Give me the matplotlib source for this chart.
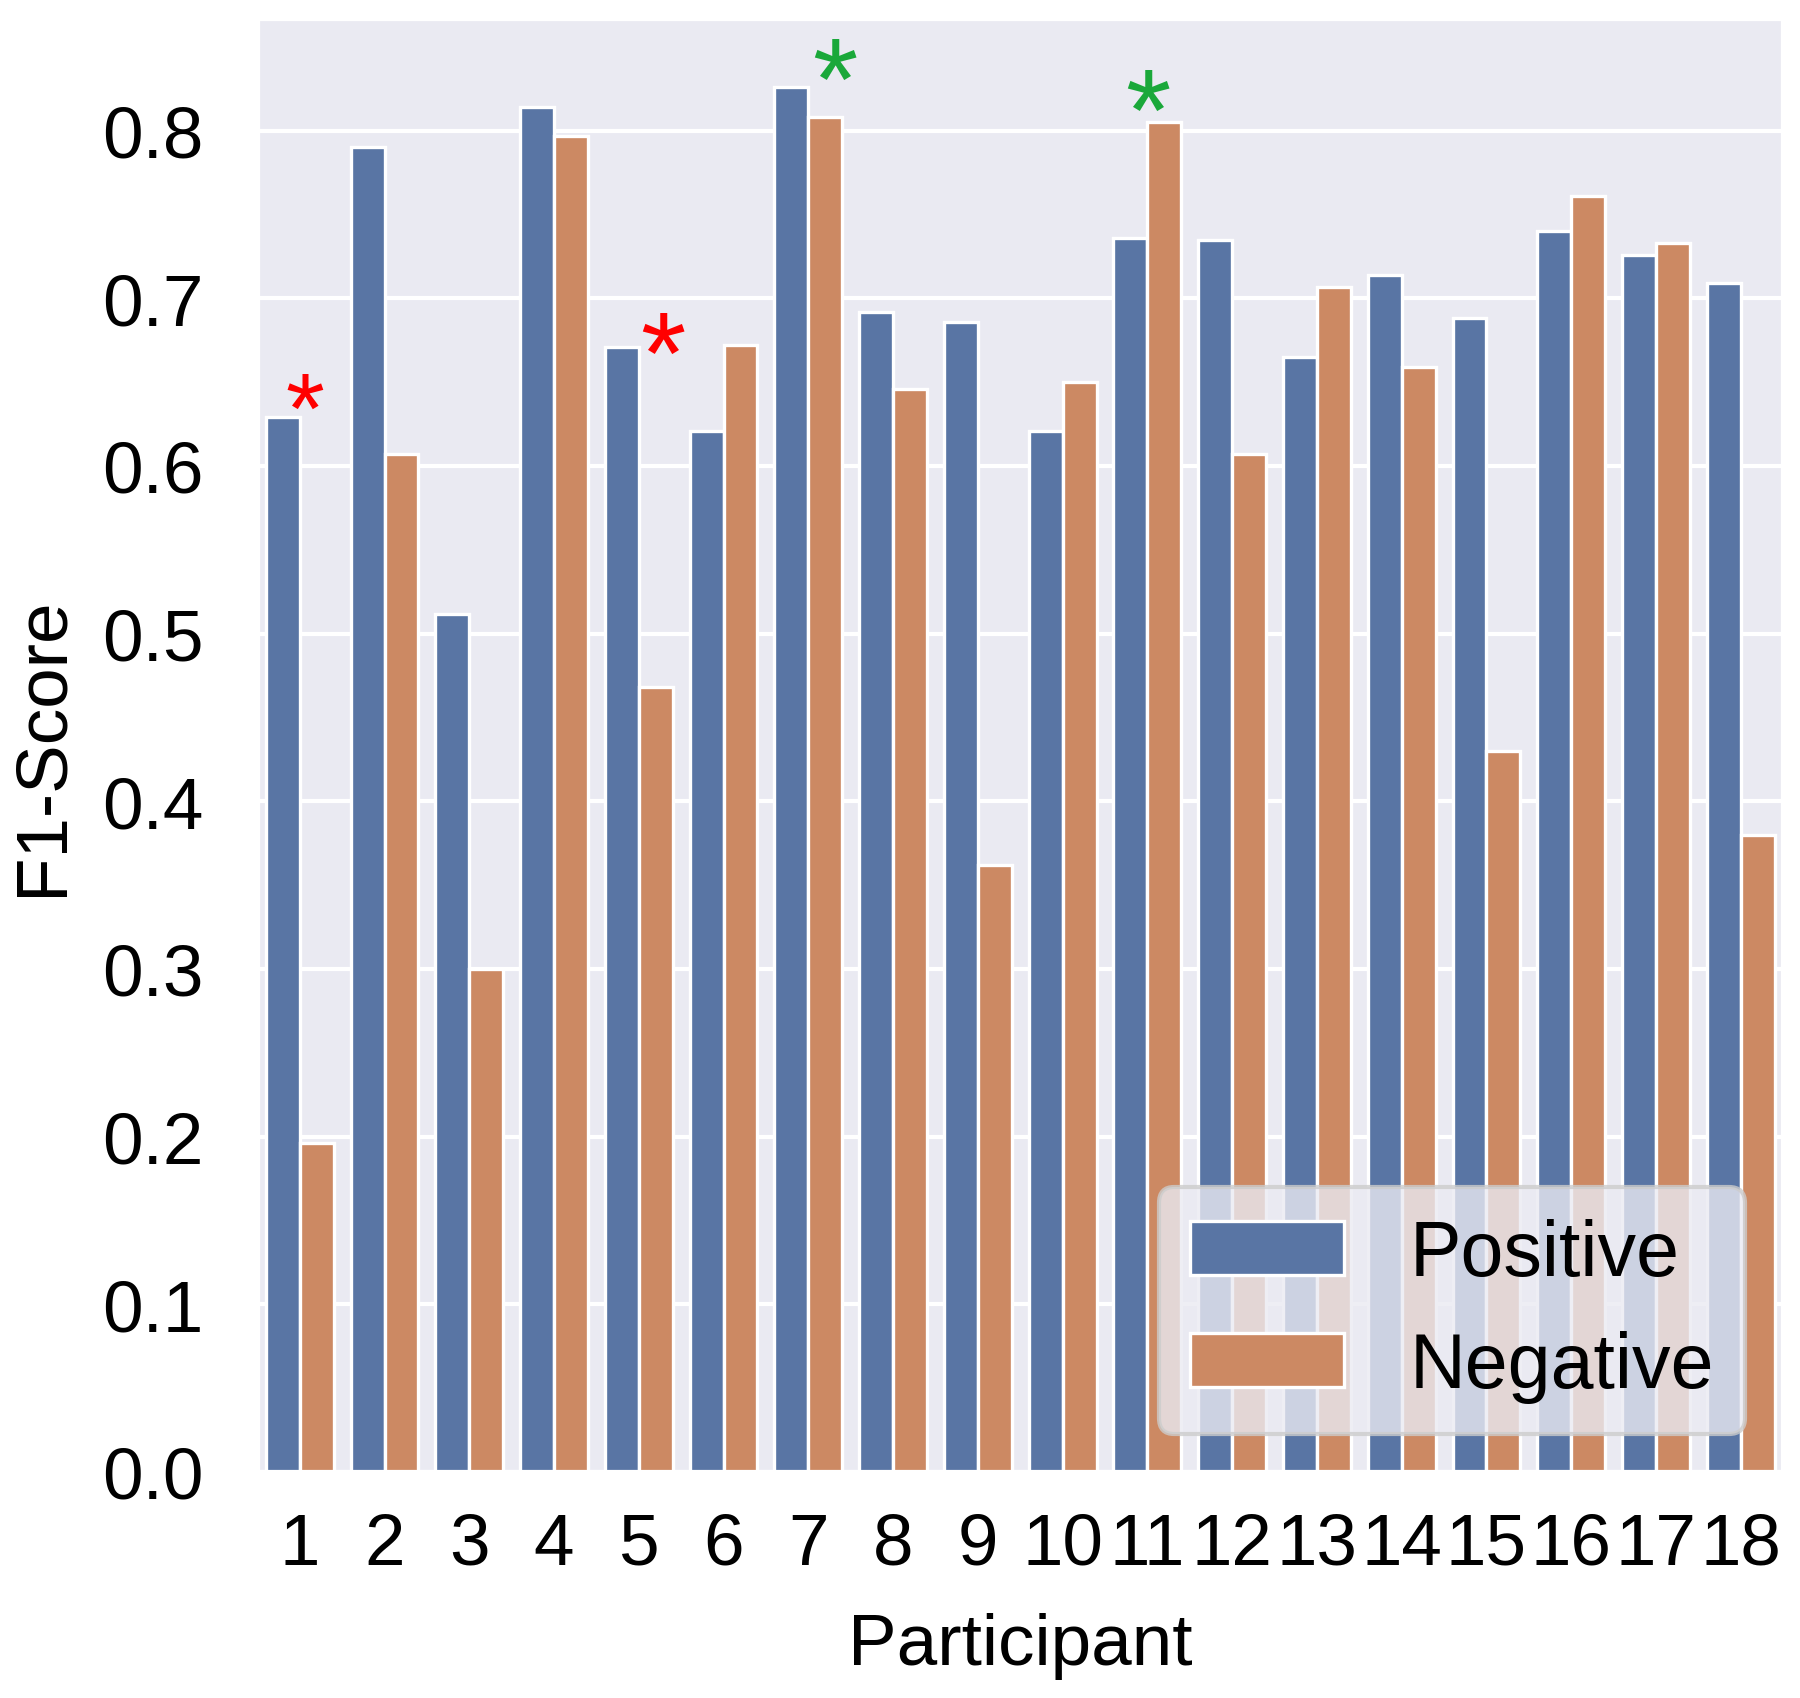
import numpy as np
import pandas as pd
import matplotlib
matplotlib.use('Agg')
import matplotlib.pyplot as plt
import seaborn as sns

participants = [str(i) for i in range(1, 19)]
positive = [0.629, 0.790, 0.512, 0.814, 0.671, 0.621, 0.826, 0.692, 0.686,
            0.621, 0.736, 0.735, 0.665, 0.714, 0.688, 0.740, 0.726, 0.709]
negative = [0.196, 0.607, 0.300, 0.797, 0.468, 0.672, 0.808, 0.646, 0.362,
            0.650, 0.805, 0.607, 0.707, 0.659, 0.430, 0.761, 0.733, 0.380]

# significance markers: (participant index, x offset, y, colour)
stars = [(0, 0.055, 0.644, 'red'), (4, 0.28, 0.678, 'red'),
         (6, 0.31, 0.841, '#1aa83a'), (10, 0.01, 0.823, '#1aa83a')]

df = pd.DataFrame({
    'Participant': participants * 2,
    'F1-Score': positive + negative,
    'Class': ['Positive'] * 18 + ['Negative'] * 18,
})

sns.set_theme(style='darkgrid')
plt.rcParams['font.family'] = ['Liberation Sans', 'DejaVu Sans']
for k in ['text.color', 'axes.labelcolor', 'xtick.color', 'ytick.color']:
    plt.rcParams[k] = 'black'

fig = plt.figure(figsize=(6, 5.663), dpi=300)
ax = fig.add_subplot(111)
fig.subplots_adjust(left=0.143, right=0.9906, top=0.989, bottom=0.133)

sns.barplot(data=df, x='Participant', y='F1-Score', hue='Class', ax=ax,
            edgecolor='white', linewidth=0.8)

for idx, dx, y, c in stars:
    fs = 24 if idx == 0 else 28
    ax.text(idx + dx, y - 0.015 * fs / 26, '*', color=c, fontsize=fs,
            ha='center', va='center')

ax.set_yticks(np.arange(0, 0.81, 0.1))
ax.tick_params(labelsize=17.5)
ax.tick_params(axis='y', pad=7)
ax.set_xlabel('Participant', fontsize=17.5, labelpad=8)
ax.set_ylabel('F1-Score', fontsize=17.5, labelpad=6)
ax.legend(loc='lower right', fontsize=18.5, handlelength=2.0,
          handletextpad=0.85, title=None)

plt.savefig('out.png', dpi=300)
